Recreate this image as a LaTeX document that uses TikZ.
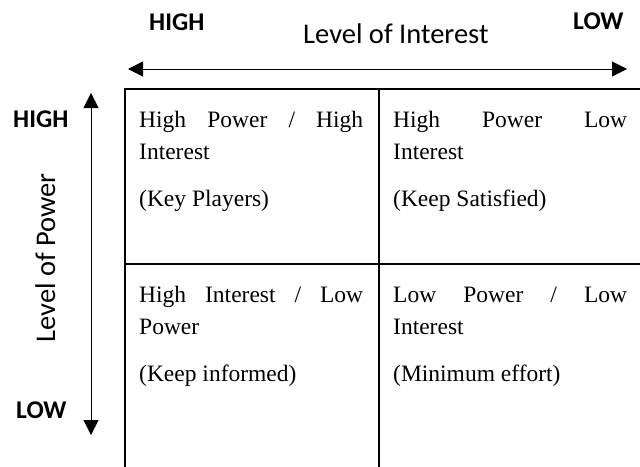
\documentclass[tikz,border=0pt]{standalone}
\usepackage{fontspec}
\setmainfont{Liberation Serif}
\newfontfamily\labelfont{Carlito}
\usetikzlibrary{arrows.meta}

\tikzset{
  gridline/.style={line width=2pt, line cap=rect},
  axisarrow/.style={line width=1pt, {Triangle[length=15pt,width=15pt]}-{Triangle[length=15pt,width=15pt]}},
  celltext/.style={inner sep=0pt, anchor=base west, font=\fontsize{23.5}{28}\selectfont},
  endlabel/.style={inner sep=0pt, anchor=base west, font=\labelfont\bfseries\fontsize{25.5}{30}\selectfont},
  axislabel/.style={inner sep=0pt, font=\labelfont\fontsize{28.5}{34}\selectfont},
}

\begin{document}
\begin{tikzpicture}[x=1pt,y=-1pt]
  \useasboundingbox (0,0) rectangle (640,466);

  % axis labels
  \node[endlabel] (ihigh) at (149,30) {HIGH};
  \node[endlabel] (ilow) at (573,29) {LOW};
  \node[axislabel, anchor=base west] (interest) at (303,43) {Level of Interest};
  \node[endlabel] (phigh) at (13,127) {HIGH};
  \node[endlabel] (plow) at (16,418) {LOW};
  \node[axislabel, anchor=base, rotate=90] (power) at (55,258) {Level of Power};

  % axis arrows
  \coordinate (ileft) at (128,69);
  \coordinate (iright) at (627,69);
  \coordinate (ptop) at (91,93);
  \coordinate (pbottom) at (91,435);
  \draw[axisarrow] (ileft) -- (iright);
  \draw[axisarrow] (ptop) -- (pbottom);

  % grid
  \coordinate (gtl) at (125,89);
  \coordinate (gtr) at (642,89);
  \coordinate (gml) at (125,264);
  \coordinate (gmr) at (642,264);
  \coordinate (gbl) at (125,468);
  \coordinate (gtm) at (379,89);
  \coordinate (gbm) at (379,468);
  \draw[gridline] (gtr) -- (gtl) -- (gbl);
  \draw[gridline] (gml) -- (gmr);
  \draw[gridline] (gtm) -- (gbm);

  % top left cell
  \node[celltext] (kp1) at (139,127) {\makebox[224pt][s]{High Power / High}};
  \node[celltext] (kp2) at (139,159) {Interest};
  \node[celltext] (kp3) at (139,206) {(Key Players)};
  % top right cell
  \node[celltext] (ks1) at (393,127) {\makebox[234pt][s]{High Power Low}};
  \node[celltext] (ks2) at (393,159) {Interest};
  \node[celltext] (ks3) at (393,206) {(Keep Satisfied)};
  % bottom left cell
  \node[celltext] (ki1) at (139,302) {\makebox[224pt][s]{High Interest / Low}};
  \node[celltext] (ki2) at (139,334) {Power};
  \node[celltext] (ki3) at (139,381) {(Keep informed)};
  % bottom right cell
  \node[celltext] (me1) at (393,302) {\makebox[234pt][s]{Low Power / Low}};
  \node[celltext] (me2) at (393,334) {Interest};
  \node[celltext] (me3) at (393,381) {(Minimum effort)};
\end{tikzpicture}
\end{document}
